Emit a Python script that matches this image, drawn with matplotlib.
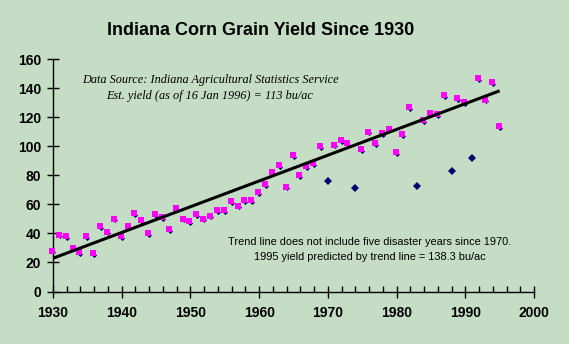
import matplotlib
matplotlib.use("Agg")
import matplotlib.pyplot as plt
import matplotlib.transforms as mtransforms
from matplotlib.ticker import MultipleLocator

# Indiana corn grain yield (bu/ac), years used in the trend fit
years = [1930, 1931, 1932, 1933, 1934, 1935, 1936, 1937, 1938, 1939,
         1940, 1941, 1942, 1943, 1944, 1945, 1946, 1947, 1948, 1949,
         1950, 1951, 1952, 1953, 1954, 1955, 1956, 1957, 1958, 1959,
         1960, 1961, 1962, 1963, 1964, 1965, 1966, 1967, 1968, 1969,
         1971, 1972, 1973, 1975, 1976, 1977, 1978, 1979, 1980, 1981,
         1982, 1984, 1985, 1986, 1987, 1989, 1990, 1992, 1993, 1994,
         1995]
yields = [27, 38, 37, 29, 26, 37, 25, 44, 40, 49,
          37, 44, 53, 48, 39, 52, 50, 42, 56, 49,
          47, 52, 49, 51, 55, 55, 61, 58, 62, 62,
          67, 73, 81, 86, 71, 93, 79, 85, 87, 99,
          100, 103, 101, 97, 109, 101, 108, 111, 95, 107,
          126, 117, 122, 121, 134, 132, 129, 146, 131, 143,
          113]

# Disaster years excluded from the trend
disaster_years = [1970, 1974, 1983, 1988, 1991]
disaster_yields = [76, 71, 73, 83, 92]

# Trend line end points
trend_years = [1930, 1995]
trend_values = [22.9, 138.3]

x_ticks = [1930, 1940, 1950, 1960, 1970, 1980, 1990, 2000]
y_ticks = [0, 20, 40, 60, 80, 100, 120, 140, 160]

bg = "#C5DCC5"
navy = "#000070"
magenta = "#FF00FF"

fig = plt.figure(figsize=(5.69, 3.44), dpi=100, facecolor=bg)
ax = fig.add_axes([53 / 569, 1 - 291.5 / 344, (534 - 53) / 569, (291.5 - 59.3) / 344])
ax.set_facecolor(bg)

ax.set_xlim(1930, 2000)
ax.set_ylim(0, 160)

# Points: small navy diamond at each value, magenta square drawn slightly up-left of it
square_trans = mtransforms.offset_copy(ax.transData, fig=fig, x=-1.0, y=1.8, units="dots")
ax.plot(years, yields, linestyle="none", marker="D", markersize=2.6,
        markeredgewidth=0, color=navy, zorder=3, clip_on=False)
ax.plot(years, yields, linestyle="none", marker="s", markersize=5.0,
        markeredgewidth=0, color=magenta, zorder=4, transform=square_trans,
        clip_on=False)
ax.plot(disaster_years, disaster_yields, linestyle="none", marker="D",
        markersize=4.4, markeredgewidth=0, color=navy, zorder=3)

ax.plot(trend_years, trend_values, color="black", linewidth=2.2,
        solid_capstyle="butt", zorder=5)

for side in ("top", "right"):
    ax.spines[side].set_visible(False)
for side in ("left", "bottom"):
    ax.spines[side].set_linewidth(1.0)
    ax.spines[side].set_color("black")

ax.set_xticks(x_ticks)
ax.set_yticks(y_ticks)
ax.xaxis.set_minor_locator(MultipleLocator(2))
ax.tick_params(axis="both", which="major", direction="inout", length=9,
               width=1, color="black", labelsize=10, pad=4)
ax.tick_params(axis="x", which="major", pad=6)
ax.tick_params(axis="x", which="minor", direction="in", length=4, width=1,
               color="black")
for lab in ax.get_xticklabels() + ax.get_yticklabels():
    lab.set_fontfamily("Liberation Sans")
    lab.set_fontweight("bold")

fig.text(261 / 569, 1 - 30.5 / 344, "Indiana Corn Grain Yield Since 1930",
         ha="center", va="center", fontsize=13, fontweight="bold",
         family="Liberation Sans")

fig.text(210 / 569, 1 - 79.5 / 344,
         "Data Source: Indiana Agricultural Statistics Service",
         ha="center", va="center", fontsize=8.8, style="italic",
         family="Liberation Serif")
fig.text(210 / 569, 1 - 96.5 / 344,
         "Est. yield (as of 16 Jan 1996) = 113 bu/ac",
         ha="center", va="center", fontsize=8.8, style="italic",
         family="Liberation Serif")

fig.text(370 / 569, 1 - 242 / 344,
         "Trend line does not include five disaster years since 1970.",
         ha="center", va="center", fontsize=7.9, family="Liberation Sans")
fig.text(369.5 / 569, 1 - 256.5 / 344,
         "1995 yield predicted by trend line = 138.3 bu/ac",
         ha="center", va="center", fontsize=7.9, family="Liberation Sans")

fig.savefig("out.png", dpi=100, facecolor=bg)
